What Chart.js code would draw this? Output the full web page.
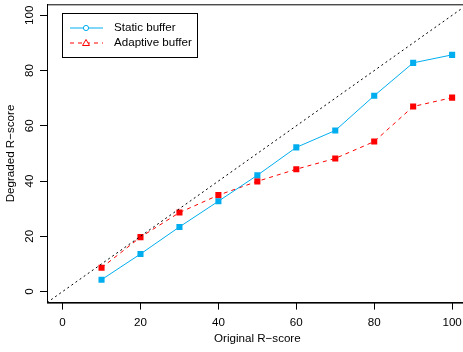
<!DOCTYPE html>
<html lang="en">
<head>
    <meta charset="UTF-8">
    <title>R-score degradation</title>
    <style>
        html, body { margin: 0; padding: 0; overflow: hidden; background: #fff; }
        canvas { display: block; }
    </style>
</head>
<body>
<script src="https://cdn.jsdelivr.net/npm/chart.js@4.4.0/dist/chart.umd.min.js"></script>

<canvas id="scores" width="472" height="352"></canvas>
<script>
    // values
    const originalScore = [10, 20, 30, 40, 50, 60, 70, 80, 90, 100]
    const staticBuffer = [4.3, 13.6, 23.4, 32.7, 42.1, 52.2, 58.3, 70.9, 82.8, 85.7]
    const adaptiveBuffer = [8.6, 19.7, 28.6, 34.9, 39.9, 44.3, 48.2, 54.3, 67.0, 70.2]
    const axisTicks = [0, 20, 40, 60, 80, 100]
    const identityLine = [-4, 104]   // y = x, drawn across the whole box

    const FONT = '"Liberation Sans", Arial, sans-serif'
    const blue = '#00AEEF'
    const red = '#FF0000'

    const toPoints = (xs, ys) => xs.map((x, i) => ({x: x, y: ys[i]}))

    // box, rotated y labels, axis titles and the legend, R style
    const rStyle = {
        id: 'rStyle',
        afterDraw(chart) {
            const ctx = chart.ctx
            const area = chart.chartArea
            const y = chart.scales.y
            ctx.save()
            ctx.strokeStyle = '#000'
            ctx.lineWidth = 1
            ctx.strokeRect(area.left + 0.5, area.top + 0.5, area.right - area.left, area.bottom - area.top)

            ctx.fillStyle = '#000'
            ctx.font = '11.6px ' + FONT
            ctx.textAlign = 'center'
            ctx.textBaseline = 'middle'
            axisTicks.forEach(v => {
                ctx.save()
                ctx.translate(30, y.getPixelForValue(v))
                ctx.rotate(-Math.PI / 2)
                ctx.fillText(String(v), 0, 0)
                ctx.restore()
            })

            ctx.save()
            ctx.translate(11, (area.top + area.bottom) / 2)
            ctx.rotate(-Math.PI / 2)
            ctx.fillText('Degraded R\u2212score', 0, 0)
            ctx.restore()
            ctx.fillText('Original R\u2212score', (area.left + area.right) / 2, 339)

            // legend
            const lx = 62, ly = 13, lw = 135, lh = 44
            ctx.fillStyle = '#fff'
            ctx.fillRect(lx, ly, lw, lh)
            ctx.strokeRect(lx + 0.5, ly + 0.5, lw, lh)
            const items = [
                {label: 'Static buffer', color: blue, dash: [], marker: 'circle', yy: 28},
                {label: 'Adaptive buffer', color: red, dash: [4, 4], marker: 'triangle', yy: 43}
            ]
            items.forEach(it => {
                ctx.strokeStyle = it.color
                ctx.setLineDash(it.dash)
                ctx.beginPath()
                ctx.moveTo(70, it.yy)
                ctx.lineTo(103, it.yy)
                ctx.stroke()
                ctx.setLineDash([])
                ctx.fillStyle = '#fff'
                ctx.beginPath()
                if (it.marker === 'circle') {
                    ctx.arc(86, it.yy, 2.6, 0, Math.PI * 2)
                } else {
                    ctx.moveTo(86, it.yy - 3.5)
                    ctx.lineTo(89.5, it.yy + 2.5)
                    ctx.lineTo(82.5, it.yy + 2.5)
                    ctx.closePath()
                }
                ctx.fill()
                ctx.stroke()
                ctx.fillStyle = '#000'
                ctx.textAlign = 'left'
                ctx.fillText(it.label, 114, it.yy)
            })
            ctx.restore()
        }
    }

    const ctx = document.getElementById('scores').getContext('2d')
    const chart = new Chart(ctx, {
        type: 'line',
        data: {
            datasets: [{
                label: 'y = x',
                data: toPoints(identityLine, identityLine),
                borderColor: '#000',
                borderWidth: 1,
                borderDash: [2, 3],
                pointRadius: 0
            }, {
                label: 'Static buffer',
                data: toPoints(originalScore, staticBuffer),
                borderColor: blue,
                backgroundColor: blue,
                borderWidth: 1,
                pointStyle: 'rect',
                pointRadius: 4.3,
                pointBorderWidth: 0
            }, {
                label: 'Adaptive buffer',
                data: toPoints(originalScore, adaptiveBuffer),
                borderColor: red,
                backgroundColor: red,
                borderWidth: 1,
                borderDash: [4, 4],
                pointStyle: 'rect',
                pointRadius: 4.3,
                pointBorderWidth: 0
            }]
        },
        options: {
            responsive: false,
            animation: false,
            layout: {padding: {top: 3, right: 0, left: 0, bottom: 0}},
            plugins: {legend: {display: false}, tooltip: {enabled: false}},
            scales: {
                x: {
                    type: 'linear',
                    min: -4,
                    max: 104,
                    afterBuildTicks: axis => { axis.ticks = axisTicks.map(v => ({value: v})) },
                    afterFit: axis => { axis.height = 49.4 },
                    grid: {drawOnChartArea: false, tickLength: 7, color: '#000', tickColor: '#000'},
                    border: {color: '#000'},
                    ticks: {color: '#000', font: {family: FONT, size: 11.6}, padding: 6, maxRotation: 0}
                },
                y: {
                    type: 'linear',
                    min: -4,
                    max: 104,
                    afterBuildTicks: axis => { axis.ticks = axisTicks.map(v => ({value: v})) },
                    afterFit: axis => { axis.width = 47 },
                    grid: {drawOnChartArea: false, tickLength: 7, color: '#000', tickColor: '#000'},
                    border: {color: '#000'},
                    ticks: {display: false}
                }
            }
        },
        plugins: [rStyle]
    })
</script>
</body>
</html>
